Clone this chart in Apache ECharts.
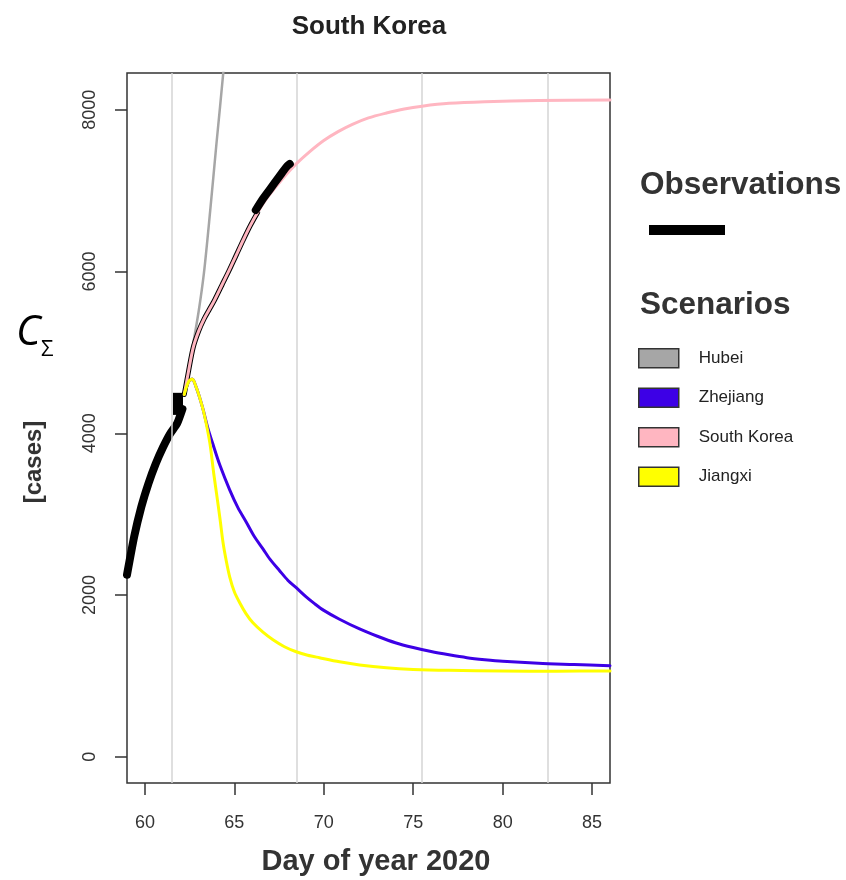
<!DOCTYPE html>
<html>
<head>
<meta charset="utf-8">
<script src="https://cdn.jsdelivr.net/npm/echarts@6/dist/echarts.min.js"></script>
<style>html,body{margin:0;padding:0;background:#fff}#c{width:846px;height:880px}</style>
</head>
<body>
<div id="c"></div>
<script>
// ---- data ----
const xTicks = [60, 65, 70, 75, 80, 85];
const yTicks = [0, 2000, 4000, 6000, 8000];
const weekLines = [61.5, 68.5, 75.5, 82.5];

const obsEarlyDay = [59.0, 59.4, 59.8, 60.2, 60.6, 61.0, 61.4, 61.8, 62.1];
const obsEarlyVal = [2250, 2720, 3090, 3380, 3620, 3820, 3990, 4120, 4300];
const obsJumpDay = [61.85, 61.85];
const obsJumpVal = [4227, 4500];
const obsMidDay = [62.2, 62.45, 62.7, 63.0, 63.3, 63.6, 63.9, 64.3, 64.7, 65.1, 65.5, 65.9, 66.3];
const obsMidVal = [4480, 4780, 5060, 5260, 5410, 5530, 5650, 5830, 6010, 6200, 6390, 6570, 6730];
const obsLateDay = [66.2, 66.6, 67.0, 67.5, 67.9, 68.1];
const obsLateVal = [6761, 6900, 7020, 7170, 7290, 7330];

const hubeiDay = [62.2, 62.6, 63.0, 63.3, 63.65, 64.0, 64.4, 64.7];
const hubeiVal = [4480, 4980, 5500, 5980, 6750, 7580, 8500, 9300];

const zhejiangDay = [62.2, 62.45, 62.65, 62.85, 63.05, 63.26, 63.5, 63.81, 64.2, 64.74, 65.2, 65.67, 66.1, 66.6, 67.0, 67.53, 68.0, 68.46, 69.0, 69.5, 70.0, 70.88, 72, 73, 74, 75, 76, 77, 78, 79, 80, 82, 84, 86];
const zhejiangVal = [4480, 4640, 4670, 4580, 4450, 4289, 4080, 3860, 3600, 3300, 3080, 2900, 2730, 2570, 2440, 2300, 2180, 2090, 1980, 1890, 1810, 1700, 1580, 1490, 1410, 1350, 1300, 1260, 1225, 1200, 1180, 1155, 1140, 1125];

const koreaDay = [62.2, 62.45, 62.7, 63.0, 63.3, 63.6, 63.9, 64.3, 64.7, 65.1, 65.5, 65.9, 66.3, 66.8, 67.3, 67.9, 68.5, 69.2, 70.0, 70.8, 71.6, 72.5, 73.5, 74.5, 75.5, 77, 79, 82, 86];
const koreaVal = [4480, 4780, 5060, 5260, 5410, 5530, 5650, 5830, 6010, 6200, 6390, 6570, 6730, 6900, 7040, 7200, 7340, 7480, 7620, 7730, 7820, 7900, 7960, 8010, 8045, 8080, 8100, 8115, 8120];

const jiangxiDay = [62.2, 62.45, 62.65, 62.85, 63.05, 63.3, 63.63, 63.85, 64.0, 64.2, 64.37, 64.55, 64.74, 65.0, 65.3, 65.65, 66.04, 66.6, 67.16, 67.8, 68.46, 69.1, 69.76, 70.88, 72, 73.5, 75, 77, 80, 83, 86];
const jiangxiVal = [4480, 4640, 4670, 4580, 4450, 4250, 3881, 3500, 3263, 2940, 2645, 2420, 2225, 2040, 1904, 1770, 1656, 1540, 1446, 1360, 1298, 1255, 1224, 1174, 1135, 1100, 1080, 1068, 1060, 1058, 1060];

const scenarioNames = ['Hubei', 'Zhejiang', 'South Korea', 'Jiangxi'];
const scenarioColors = ['#a6a6a6', '#3d00e6', '#ffb6c1', '#ffff00'];

const zip = (a, b) => a.map((d, i) => [d, b[i]]);

const chart = echarts.init(document.getElementById('c'), null, {renderer: 'canvas'});
const font = '"Liberation Sans", Arial, sans-serif';

function lineSeries(name, data, color, width, z, extra) {
  return Object.assign({
    name: name, type: 'line', data: data, showSymbol: false, symbol: 'none',
    smooth: 0.3, clip: true, silent: true, z: z,
    lineStyle: {color: color, width: width, cap: 'round', join: 'round'},
    itemStyle: {color: color}
  }, extra || {});
}

const option = {
  animation: false,
  backgroundColor: '#fff',
  title: {
    text: 'South Korea', left: 364, top: 9, textAlign: 'center',
    textStyle: {fontFamily: font, fontWeight: 'bold', fontSize: 26, color: '#222'}
  },
  grid: {
    left: 127, right: 236, top: 73, bottom: 97, show: true,
    borderColor: '#333', borderWidth: 1.5, backgroundColor: 'transparent',
    containLabel: false, outerBoundsMode: 'none'
  },
  xAxis: {
    type: 'value', min: 59, max: 86, position: 'bottom',
    axisLine: {show: false, onZero: false},
    splitLine: {show: false},
    axisTick: {show: true, length: 12, inside: false, lineStyle: {color: '#333', width: 1.5}, customValues: xTicks},
    axisLabel: {customValues: xTicks, margin: 31, fontFamily: font, fontSize: 18, color: '#333', formatter: v => String(v)}
  },
  yAxis: {
    type: 'value', min: -325, max: 8455, position: 'left',
    axisLine: {show: false, onZero: false},
    splitLine: {show: false},
    axisTick: {show: true, length: 12, lineStyle: {color: '#333', width: 1.5}, customValues: yTicks},
    axisLabel: {customValues: yTicks, rotate: 90, margin: 28, fontFamily: font, fontSize: 18, color: '#333', formatter: v => String(v)}
  },
  legend: {
    data: scenarioNames.map((n, i) => ({
      name: n, icon: 'rect',
      itemStyle: {color: scenarioColors[i], borderColor: '#333', borderWidth: 1.5}
    })),
    orient: 'vertical', left: 633, top: 343, itemWidth: 40, itemHeight: 19, itemGap: 19,
    selectedMode: false,
    textStyle: {fontFamily: font, fontSize: 17, color: '#222', padding: [0, 0, 0, 15]}
  },
  graphic: [
    {type: 'text', left: 640, top: 169, style: {text: 'Observations', fontFamily: font, fontWeight: 'bold', fontSize: 31.5, fill: '#333'}},
    {type: 'rect', left: 649, top: 225, shape: {width: 76, height: 10}, style: {fill: '#000'}},
    {type: 'text', left: 640, top: 289, style: {text: 'Scenarios', fontFamily: font, fontWeight: 'bold', fontSize: 31.5, fill: '#333'}},
    {type: 'text', left: 16, top: 312, style: {text: 'C', fontFamily: '"Open Sans", "DejaVu Sans", sans-serif', fontStyle: 'italic', fontSize: 42, fill: '#000'}},
    {type: 'text', left: 41, top: 339, style: {text: 'Σ', fontFamily: '"Open Sans", "DejaVu Sans", sans-serif', fontSize: 22, fill: '#000'}},
    {type: 'text', x: 34, y: 462, rotation: Math.PI / 2, style: {text: '[cases]', fontFamily: font, fontWeight: 'bold', fontSize: 24, fill: '#333', align: 'center', verticalAlign: 'middle'}},
    {type: 'text', x: 376, y: 862, style: {text: 'Day of year 2020', fontFamily: font, fontWeight: 'bold', fontSize: 29, fill: '#333', align: 'center', verticalAlign: 'middle'}}
  ],
  series: [
    {
      name: 'weeks', type: 'line', data: [], silent: true, z: 1,
      markLine: {
        silent: true, symbol: 'none', animation: false,
        label: {show: false},
        lineStyle: {color: '#d4d4d4', width: 1.5, type: 'solid'},
        data: weekLines.map(v => ({xAxis: v}))
      }
    },
    lineSeries('obsEarly', zip(obsEarlyDay, obsEarlyVal), '#000', 8, 3, {smooth: 0.2}),
    lineSeries('obsJump', zip(obsJumpDay, obsJumpVal), '#000', 10, 3, {smooth: false, lineStyle: {color: '#000', width: 10, cap: 'butt'}}),
    lineSeries('Hubei', zip(hubeiDay, hubeiVal), '#a6a6a6', 2.5, 4),
    lineSeries('Zhejiang', zip(zhejiangDay, zhejiangVal), '#3d00e6', 3, 5),
    lineSeries('obsMid', zip(obsMidDay, obsMidVal), '#000', 5, 6),
    lineSeries('South Korea', zip(koreaDay, koreaVal), '#ffb6c1', 3, 7),
    lineSeries('Jiangxi', zip(jiangxiDay, jiangxiVal), '#ffff00', 3, 8),
    lineSeries('obsLate', zip(obsLateDay, obsLateVal), '#000', 8, 9)
  ]
};
chart.setOption(option);
</script>
</body>
</html>
